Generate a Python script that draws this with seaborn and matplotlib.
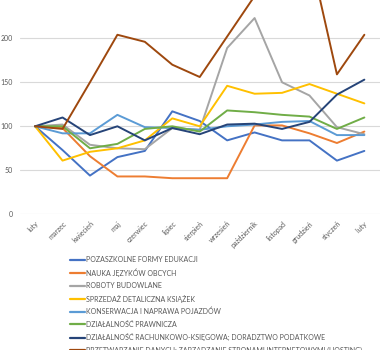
import matplotlib
matplotlib.use("Agg")
import matplotlib.pyplot as plt
import numpy as np
import pandas as pd
import seaborn as sns

# miesiące (oś X)
months = ['luty', 'marzec', 'kwiecień', 'maj', 'czerwiec', 'lipiec', 'sierpień',
          'wrzesień', 'październik', 'listopad', 'grudzień', 'styczeń', 'luty ']

# serie (indeks luty = 100)
pozaszkolne = [100, 73, 44, 65, 72, 117, 106, 84, 93, 84, 84, 61, 72]
jezyki = [100, 98, 66, 43, 43, 41, 41, 41, 101, 101, 92, 81, 94]
budowlane = [100, 102, 79, 75, 74, 98, 96, 189, 223, 150, 135, 99, 91]
ksiazki = [100, 61, 71, 75, 84, 109, 100, 146, 137, 138, 148, 137, 126]
pojazdy = [100, 92, 92, 113, 99, 98, 96, 100, 102, 105, 106, 90, 90]
prawnicza = [100, 100, 75, 80, 97, 100, 94, 118, 116, 113, 111, 97, 110]
ksiegowa = [100, 110, 90, 100, 84, 98, 91, 102, 103, 97, 105, 136, 153]
hosting = [100, 97, 150, 204, 196, 170, 156, 202, 248, 285, 297, 159, 204]

names = ['POZASZKOLNE FORMY EDUKACJI', 'NAUKA JĘZYKÓW OBCYCH', 'ROBOTY BUDOWLANE',
         'SPRZEDAŻ DETALICZNA KSIĄŻEK', 'KONSERWACJA I NAPRAWA POJAZDÓW',
         'DZIAŁALNOŚĆ PRAWNICZA',
         'DZIAŁALNOŚĆ RACHUNKOWO-KSIĘGOWA; DORADZTWO PODATKOWE',
         'PRZETWARZANIE DANYCH; ZARZĄDZANIE STRONAMI INTERNETOWYMI (HOSTING)']
series = [pozaszkolne, jezyki, budowlane, ksiazki, pojazdy, prawnicza, ksiegowa, hosting]
colors = ['#4472C4', '#ED7D31', '#A5A5A5', '#FFC000', '#5B9BD5', '#70AD47', '#264478', '#9E480E']

rows = []
for name, vals in zip(names, series):
    for i, v in enumerate(vals):
        rows.append({'x': i, 'y': v, 'seria': name})
df = pd.DataFrame(rows)

sns.set_style('white')
plt.rcParams['font.family'] = ['Lato', 'DejaVu Sans']
fig = plt.figure(figsize=(3.9, 3.5), dpi=100)
ax = fig.add_axes([20 / 390, (350 - 214.3) / 350, 360 / 390, 214.3 / 350])

sns.lineplot(data=df, x='x', y='y', hue='seria', hue_order=names,
             palette=colors, linewidth=1.4, ax=ax, legend=False)

ax.set_ylim(0, 243.5)
ax.set_xlim(-0.55, 12.57)
ax.set_yticks([0, 50, 100, 150, 200])
ax.yaxis.grid(True, color='#D9D9D9', linewidth=0.8)
ax.set_axisbelow(True)
for s in ax.spines.values():
    s.set_visible(False)
ax.set_xticks(range(len(months)))
ax.set_xticklabels(months, rotation=45, ha='right', rotation_mode='anchor')
ax.tick_params(axis='both', length=0, labelsize=5, labelcolor='#595959', pad=4)
ax.tick_params(axis='y', pad=5)
ax.set_xlabel('')
ax.set_ylabel('')

handles = [plt.Line2D([], [], color=c, linewidth=1.6) for c in colors]
leg = fig.legend(handles, names, loc='upper left', bbox_to_anchor=(70 / 390, 1 - 256 / 350),
                 frameon=False, fontsize=5, handlelength=2.2, handletextpad=0.15,
                 labelspacing=0.77, borderaxespad=0, borderpad=0)
for t in leg.get_texts():
    t.set_color('#595959')

fig.savefig('out.png', dpi=100)
